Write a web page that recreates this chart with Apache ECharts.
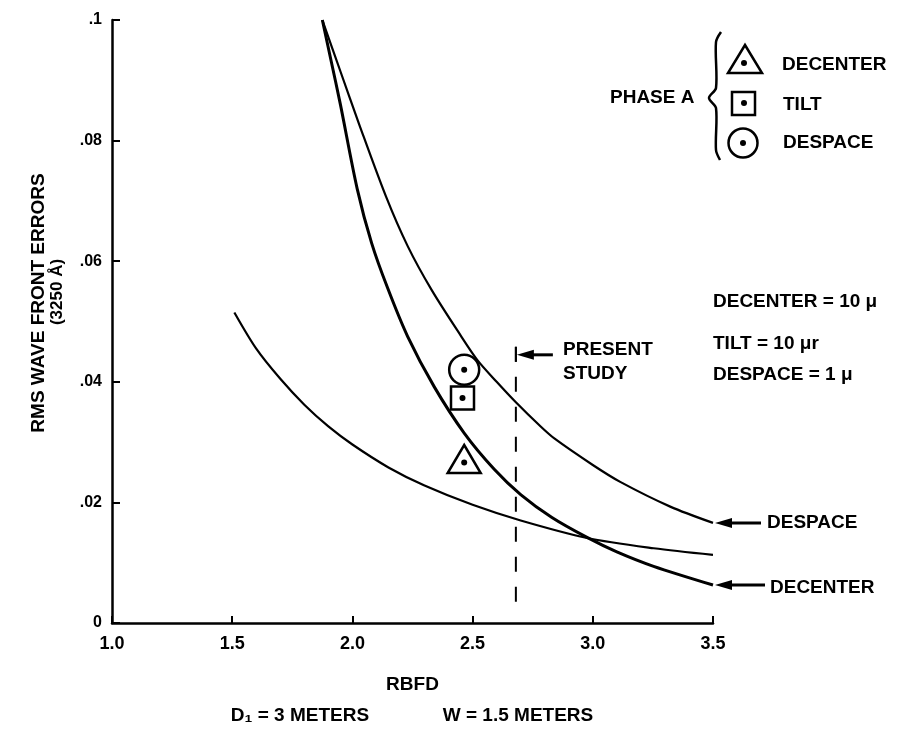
<!DOCTYPE html>
<html>
<head>
<meta charset="utf-8">
<script src="https://cdn.jsdelivr.net/npm/echarts@6/dist/echarts.min.js"></script>
<style>
  html, body { margin: 0; padding: 0; background: #fff; }
  #main { width: 900px; height: 729px; }
</style>
</head>
<body>
<div id="main"></div>
<script>
// tick labels
var xTicks = ['1.0', '1.5', '2.0', '2.5', '3.0', '3.5'];
var yTicks = ['0', '.02', '.04', '.06', '.08', '.1'];

// curves  [RBFD, rms error]
var despaceCurve = [[1.875, 0.1], [1.95, 0.0915], [2.03, 0.0825], [2.14, 0.0707], [2.23, 0.0625],
  [2.33, 0.0552], [2.45, 0.0477], [2.52, 0.0436], [2.6, 0.04], [2.68, 0.0366], [2.78, 0.0327],
  [2.84, 0.0306], [3.0, 0.0262], [3.114, 0.0234], [3.322, 0.0193], [3.5, 0.0166]];
var decenterCurve = [[1.875, 0.1], [1.91, 0.0935], [1.95, 0.086], [2.02, 0.072], [2.08, 0.063],
  [2.147, 0.0555], [2.23, 0.0475], [2.34, 0.0392], [2.465, 0.0315], [2.59, 0.0255], [2.7, 0.0213],
  [2.83, 0.0175], [2.976, 0.0142], [3.1, 0.0118], [3.253, 0.0094], [3.5, 0.0063]];
var thirdCurve = [[1.509, 0.0515], [1.6, 0.0455], [1.7, 0.0405], [1.8, 0.0362], [1.9, 0.0326],
  [2.0, 0.0296], [2.15, 0.0258], [2.3, 0.0228], [2.5, 0.0196], [2.7, 0.017], [2.976, 0.0141],
  [3.253, 0.0124], [3.5, 0.0113]];

// phase A points
var phaseDecenter = [2.465, 0.0272];
var phaseDecenterDot = [2.465, 0.0266];
var phaseTilt = [2.458, 0.0373];
var phaseDespace = [2.465, 0.042];

// present study line
var studyLine = [[2.68, 0.0458], [2.68, 0.003]];

var FONT = 'Liberation Sans';

var chart = echarts.init(document.getElementById('main'));

function curve(name, data, w) {
  return {
    name: name, type: 'line', data: data, smooth: 0.3, showSymbol: false,
    lineStyle: { color: '#000', width: w }, silent: true, z: 3
  };
}

function marker(data, symbol, size) {
  return {
    type: 'scatter', data: [data], symbol: symbol, symbolSize: size, z: 5,
    itemStyle: { color: '#fff', borderColor: '#000', borderWidth: 2.5, opacity: 1 }
  };
}

var option = {
  backgroundColor: '#fff',
  animation: false,
  grid: { left: 112, right: 187, top: 20, bottom: 106 },
  xAxis: {
    type: 'value', min: 1, max: 3.5, interval: 0.5,
    name: 'RBFD', nameLocation: 'middle', nameGap: 52,
    nameTextStyle: { color: '#000', fontFamily: FONT, fontWeight: 'bold', fontSize: 19 },
    axisLine: { lineStyle: { color: '#000', width: 2.5 } },
    axisTick: { inside: true, length: 7, lineStyle: { color: '#000', width: 2 } },
    axisLabel: {
      color: '#000', fontFamily: FONT, fontWeight: 'bold', fontSize: 18, margin: 12,
      formatter: function (v) { return xTicks[Math.round((v - 1) / 0.5)]; }
    },
    splitLine: { show: false }
  },
  yAxis: {
    type: 'value', min: 0, max: 0.1, interval: 0.02,
    axisLine: { lineStyle: { color: '#000', width: 2.5 } },
    axisTick: { inside: true, length: 8, lineStyle: { color: '#000', width: 2 } },
    axisLabel: {
      color: '#000', fontFamily: FONT, fontWeight: 'bold', fontSize: 16, margin: 10,
      formatter: function (v) { return yTicks[Math.round(v / 0.02)]; }
    },
    splitLine: { show: false }
  },
  series: [
    curve('DESPACE', despaceCurve, 2.2),
    curve('DECENTER', decenterCurve, 3),
    curve('third', thirdCurve, 2.2),
    {
      type: 'line', data: studyLine, showSymbol: false, silent: true,
      lineStyle: { color: '#000', width: 2, type: [15, 15] }
    },
    marker(phaseDecenter, 'triangle', [33, 28]),
    marker(phaseTilt, 'rect', 23),
    marker(phaseDespace, 'circle', 30),
    {
      type: 'scatter', data: [phaseDecenterDot, phaseTilt, phaseDespace],
      symbol: 'circle', symbolSize: 6, z: 6, itemStyle: { color: '#000', opacity: 1 }
    }
  ]
};
chart.setOption(option);

// annotations
function txt(x, y, s, size, align) {
  return {
    type: 'text', x: x, y: y, z: 10,
    style: {
      text: s, fill: '#000', font: 'bold ' + (size || 19) + 'px "' + FONT + '"',
      align: align || 'left', verticalAlign: 'middle'
    }
  };
}
function arrow(tip, len) {
  return [
    { type: 'line', z: 10, shape: { x1: tip[0] + 12, y1: tip[1], x2: tip[0] + len, y2: tip[1] },
      style: { stroke: '#000', lineWidth: 3 } },
    { type: 'polygon', z: 10,
      shape: { points: [[tip[0], tip[1]], [tip[0] + 17, tip[1] - 5], [tip[0] + 17, tip[1] + 5]] },
      style: { fill: '#000' } }
  ];
}

var endDes = chart.convertToPixel({ gridIndex: 0 }, despaceCurve[despaceCurve.length - 1]);
var endDec = chart.convertToPixel({ gridIndex: 0 }, decenterCurve[decenterCurve.length - 1]);
var studyTop = chart.convertToPixel({ gridIndex: 0 }, studyLine[0]);

var g = [];
g = g.concat(arrow([endDes[0] + 2, endDes[1]], 46));
g = g.concat(arrow([endDec[0] + 2, endDec[1]], 50));
g = g.concat(arrow([studyTop[0] + 1, studyTop[1] + 8], 36));
g.push({ type: 'line', z: 10, shape: { x1: studyTop[0], y1: studyTop[1], x2: studyTop[0], y2: studyTop[1] + 15 },
  style: { stroke: '#000', lineWidth: 2 } });
g.push(txt(767, 523, 'DESPACE'));
g.push(txt(770, 588, 'DECENTER'));
g.push(txt(563, 350, 'PRESENT'));
g.push(txt(563, 374, 'STUDY'));
g.push(txt(713, 302, 'DECENTER = 10 μ'));
g.push(txt(713, 344, 'TILT = 10 μr'));
g.push(txt(713, 375, 'DESPACE = 1 μ'));

// phase A key
g.push(txt(610, 98, 'PHASE A'));
g.push({ type: 'polyline', z: 10, shape: { points: [[721, 32], [716, 42], [716, 88], [709, 98], [716, 108], [716, 150], [720, 160]], smooth: 0.3 },
  style: { stroke: '#000', lineWidth: 2.5, fill: null } });
g.push({ type: 'polygon', z: 10, shape: { points: [[745, 45], [762, 73], [728, 73]] },
  style: { fill: '#fff', stroke: '#000', lineWidth: 2.5 } });
g.push({ type: 'circle', z: 11, shape: { cx: 744, cy: 63, r: 3 }, style: { fill: '#000' } });
g.push({ type: 'rect', z: 10, shape: { x: 732, y: 92, width: 23, height: 23 },
  style: { fill: '#fff', stroke: '#000', lineWidth: 2.5 } });
g.push({ type: 'circle', z: 11, shape: { cx: 744, cy: 103, r: 3 }, style: { fill: '#000' } });
g.push({ type: 'circle', z: 10, shape: { cx: 743, cy: 143, r: 14.5 },
  style: { fill: '#fff', stroke: '#000', lineWidth: 2.5 } });
g.push({ type: 'circle', z: 11, shape: { cx: 743, cy: 143, r: 3 }, style: { fill: '#000' } });
g.push(txt(782, 65, 'DECENTER'));
g.push(txt(783, 105, 'TILT'));
g.push(txt(783, 143, 'DESPACE'));

// y axis title
var yt1 = txt(39, 303, 'RMS WAVE FRONT ERRORS', 19, 'center');
yt1.rotation = Math.PI / 2;
var yt2 = txt(57, 292, '(3250 Å)', 17, 'center');
yt2.rotation = Math.PI / 2;
g.push(yt1, yt2);

// bottom note
g.push(txt(300, 716, 'D₁ = 3 METERS', 19, 'center'));
g.push(txt(518, 716, 'W = 1.5 METERS', 19, 'center'));

chart.setOption({ graphic: g });
</script>
</body>
</html>
